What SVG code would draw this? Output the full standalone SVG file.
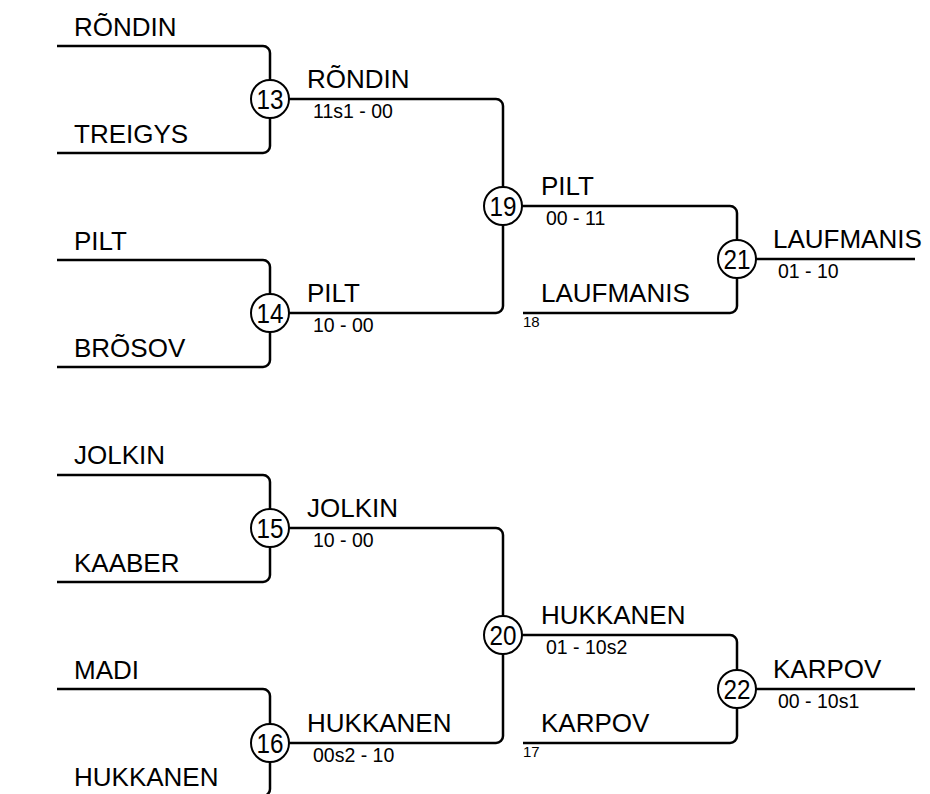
<svg xmlns="http://www.w3.org/2000/svg" width="930" height="794" viewBox="0 0 930 794">
<style>
.l{fill:none;stroke:#000;stroke-width:2.5}
.c{fill:#fff;stroke:#000;stroke-width:2}
text{font-family:"Liberation Sans",Arial,sans-serif;fill:#000}
.n{font-size:26px}
.s{font-size:19.5px}
.k{font-size:27px;text-anchor:middle}
.t{font-size:15px}
</style>
<rect width="930" height="794" fill="#fff"/>
<g id="connectors">
<path class="l" d="M57,46 H263 A7,7 0 0 1 270,53 V146 A7,7 0 0 1 263,153 H57"/>
<path class="l" d="M57,260 H263 A7,7 0 0 1 270,267 V360 A7,7 0 0 1 263,367 H57"/>
<path class="l" d="M270,99 H496 A7,7 0 0 1 503,106 V306 A7,7 0 0 1 496,313 H270"/>
<path class="l" d="M503,206 H730 A7,7 0 0 1 737,213 V306 A7,7 0 0 1 730,313 H523"/>
<path class="l" d="M737,259 H915"/>
<path class="l" d="M57,475 H263 A7,7 0 0 1 270,482 V575 A7,7 0 0 1 263,582 H57"/>
<path class="l" d="M57,689 H263 A7,7 0 0 1 270,696 V789 A7,7 0 0 1 263,796 H57"/>
<path class="l" d="M270,528 H496 A7,7 0 0 1 503,535 V736 A7,7 0 0 1 496,743 H270"/>
<path class="l" d="M503,635 H730 A7,7 0 0 1 737,642 V736 A7,7 0 0 1 730,743 H523"/>
<path class="l" d="M737,689 H915"/>
</g>
<g id="labels">
<text class="n" x="74" y="36">RÕNDIN</text>
<text class="n" x="74" y="143">TREIGYS</text>
<text class="n" x="74" y="250">PILT</text>
<text class="n" x="74" y="357">BRÕSOV</text>
<text class="n" x="307" y="88">RÕNDIN</text>
<text class="s" x="313" y="118">11s1 - 00</text>
<text class="n" x="307" y="302">PILT</text>
<text class="s" x="313" y="332">10 - 00</text>
<text class="n" x="541" y="195">PILT</text>
<text class="s" x="546" y="225">00 - 11</text>
<text class="n" x="541" y="302">LAUFMANIS</text>
<text class="t" x="523" y="327">18</text>
<text class="n" x="773" y="248">LAUFMANIS</text>
<text class="s" x="778" y="278">01 - 10</text>
<text class="n" x="74" y="464">JOLKIN</text>
<text class="n" x="74" y="572">KAABER</text>
<text class="n" x="74" y="679">MADI</text>
<text class="n" x="74" y="786">HUKKANEN</text>
<text class="n" x="307" y="517">JOLKIN</text>
<text class="s" x="313" y="547">10 - 00</text>
<text class="n" x="307" y="732">HUKKANEN</text>
<text class="s" x="313" y="762">00s2 - 10</text>
<text class="n" x="541" y="624">HUKKANEN</text>
<text class="s" x="546" y="654">01 - 10s2</text>
<text class="n" x="541" y="732">KARPOV</text>
<text class="t" x="523" y="757">17</text>
<text class="n" x="773" y="678">KARPOV</text>
<text class="s" x="778" y="708">00 - 10s1</text>
</g>
<g id="m13"><circle class="c" cx="270" cy="99" r="19"/><text class="k" x="270" y="109" textLength="27" lengthAdjust="spacingAndGlyphs">13</text></g>
<g id="m14"><circle class="c" cx="270" cy="313" r="19"/><text class="k" x="270" y="323" textLength="27" lengthAdjust="spacingAndGlyphs">14</text></g>
<g id="m19"><circle class="c" cx="503" cy="206" r="19"/><text class="k" x="503" y="216" textLength="27" lengthAdjust="spacingAndGlyphs">19</text></g>
<g id="m21"><circle class="c" cx="737" cy="259" r="19"/><text class="k" x="737" y="269" textLength="27" lengthAdjust="spacingAndGlyphs">21</text></g>
<g id="m15"><circle class="c" cx="270" cy="528" r="19"/><text class="k" x="270" y="538" textLength="27" lengthAdjust="spacingAndGlyphs">15</text></g>
<g id="m16"><circle class="c" cx="270" cy="743" r="19"/><text class="k" x="270" y="753" textLength="27" lengthAdjust="spacingAndGlyphs">16</text></g>
<g id="m20"><circle class="c" cx="503" cy="635" r="19"/><text class="k" x="503" y="645" textLength="27" lengthAdjust="spacingAndGlyphs">20</text></g>
<g id="m22"><circle class="c" cx="737" cy="689" r="19"/><text class="k" x="737" y="699" textLength="27" lengthAdjust="spacingAndGlyphs">22</text></g>
</svg>
